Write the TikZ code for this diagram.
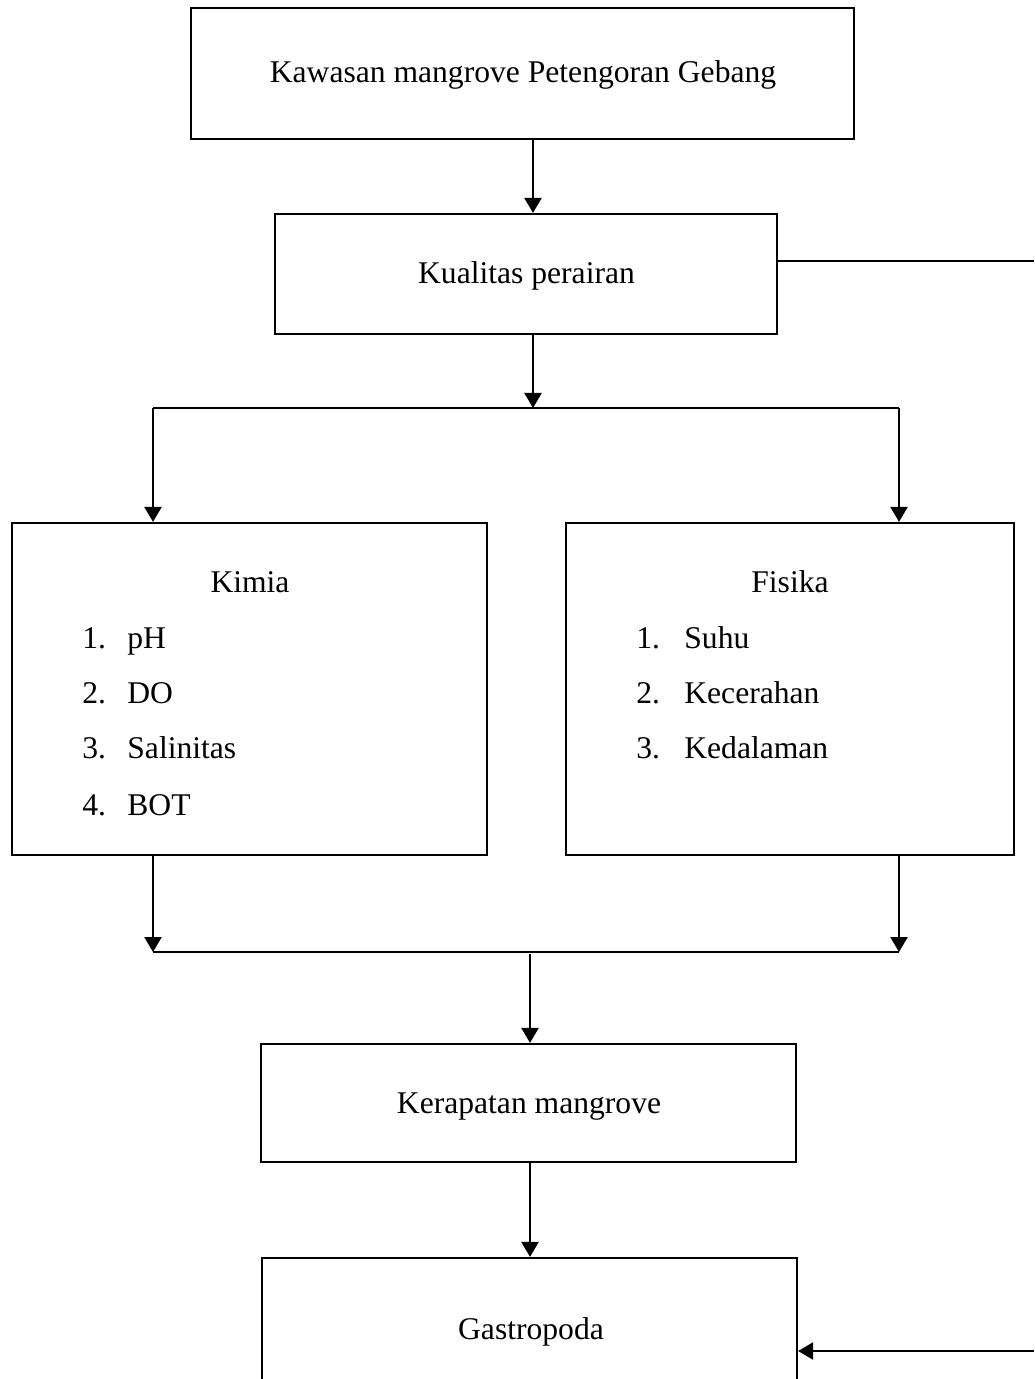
\documentclass[tikz,border=0pt]{standalone}
\usepackage{fontspec}
\setmainfont{Liberation Serif}
\usetikzlibrary{arrows.meta}
\begin{document}
\begin{tikzpicture}[x=0.5pt,y=-0.5pt,
  box/.style={draw,line width=1.1pt,inner sep=0pt,fill=none},
  txt/.style={anchor=base,inner sep=0pt,font=\fontsize{15.8}{19}\selectfont},
  item/.style={anchor=base west,inner sep=0pt,font=\fontsize{15.8}{19}\selectfont},
  conn/.style={line width=1.2pt},
  arr/.style={line width=1.2pt,-{Triangle[length=7.5pt,width=8.5pt]}}]
\useasboundingbox (0,0) rectangle (1034,1379);
\clip (0,0) rectangle (1034,1379);
% boxes
\node[box,minimum width=331.5pt,minimum height=65.5pt] (b1) at (522.5,73.5) {};
\node[box,minimum width=251pt,minimum height=60pt] (b2) at (526,274) {};
\node[box,minimum width=237.5pt,minimum height=166pt] (kimia) at (249.5,689) {};
\node[box,minimum width=224pt,minimum height=166pt] (fisika) at (790,689) {};
\node[box,minimum width=267.5pt,minimum height=59pt] (kerap) at (528.5,1103) {};
\node[box,minimum width=267.5pt,minimum height=100pt] (gastro) at (529.5,1358) {};
% texts
\node[txt] (t1) at (523,83) {Kawasan mangrove Petengoran Gebang};
\node[txt] (t2) at (526.5,284) {Kualitas perairan};
\node[txt] (tk) at (250,592) {Kimia};
\node[item] (k1) at (82,648) {\makebox[22.5pt][l]{1.}pH};
\node[item] (k2) at (82,703) {\makebox[22.5pt][l]{2.}DO};
\node[item] (k3) at (82,758) {\makebox[22.5pt][l]{3.}Salinitas};
\node[item] (k4) at (82,815) {\makebox[22.5pt][l]{4.}BOT};
\node[txt] (tf) at (790,592) {Fisika};
\node[item] (f1) at (636,648) {\makebox[24pt][l]{1.}Suhu};
\node[item] (f2) at (636,703) {\makebox[24pt][l]{2.}Kecerahan};
\node[item] (f3) at (636,758) {\makebox[24pt][l]{3.}Kedalaman};
\node[txt] (tkr) at (529,1113) {Kerapatan mangrove};
\node[txt] (tg) at (531,1339) {Gastropoda};
% junction coordinates
\coordinate (a1) at (533,0);
\coordinate (jt) at (533,408);
\coordinate (jtl) at (153,408);
\coordinate (jtr) at (899,408);
\coordinate (jbl) at (153,952);
\coordinate (jbr) at (899,952);
\coordinate (jbm) at (530,954);
\coordinate (a2) at (530,0);
\coordinate (r1) at (1034,261);
\coordinate (r2) at (1034,1351);
% connectors
\draw[arr] (b1.south -| a1) -- (b2.north -| a1);
\draw[arr] (b2.south -| a1) -- (jt);
\draw[conn] (jtl) -- (jtr);
\draw[arr] (jtl) -- (kimia.north -| jtl);
\draw[arr] (jtr) -- (fisika.north -| jtr);
\draw[arr] (kimia.south -| jbl) -- (jbl);
\draw[arr] (fisika.south -| jbr) -- (jbr);
\draw[conn] (jbl) -- (jbr);
\draw[arr] (jbm) -- (kerap.north -| jbm);
\draw[arr] (kerap.south -| a2) -- (gastro.north -| a2);
\draw[conn] (b2.east |- r1) -- (r1);
\draw[arr] (r2) -- (gastro.east |- r2);
\end{tikzpicture}
\end{document}
